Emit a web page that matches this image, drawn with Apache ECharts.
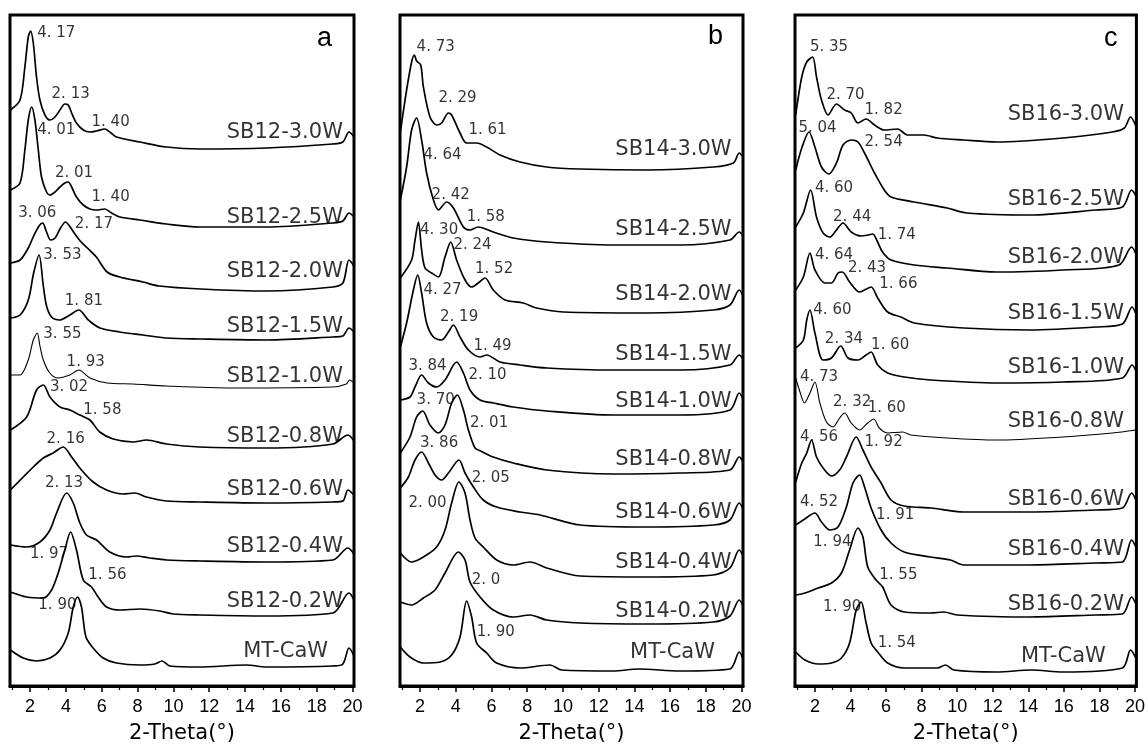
<!DOCTYPE html>
<html><head><meta charset="utf-8">
<script src="https://cdn.jsdelivr.net/npm/echarts@6/dist/echarts.min.js"></script>
<style>html,body{margin:0;padding:0;background:#fff}#c{width:1148px;height:749px}</style>
</head><body><div id="c"></div>
<script>
// ---------- tick labels ----------
const xMajorTicks = [2,4,6,8,10,12,14,16,18,20];
const xMinorTicks = [1,3,5,7,9,11,13,15,17,19];
const xTitle = '2-Theta(°)';
const panelLetters = ['a','b','c'];

// ---------- panel a (SB12) : [2theta, stacked intensity] ----------
const A_names = ['SB12-3.0W','SB12-2.5W','SB12-2.0W','SB12-1.5W','SB12-1.0W','SB12-0.8W','SB12-0.6W','SB12-0.4W','SB12-0.2W','MT-CaW'];
const A_30 = [[0.9,576],[1.44,586],[1.71,619],[1.9,649],[2.03,655],[2.18,643],[2.36,609],[2.55,586],[2.83,571],[3.11,566],[3.39,569],[3.67,576],[3.94,582],[4.13,581],[4.32,573],[4.59,563],[4.97,556],[5.34,554],[5.71,555],[6.17,557],[6.45,554],[6.82,549],[8.13,544],[9.61,539],[11.47,537],[15.19,538],[18.9,542],[19.46,544],[19.8,554],[20.08,549]];
const A_25 = [[0.9,496],[1.44,503],[1.71,536],[1.9,566],[2.09,579],[2.27,566],[2.46,536],[2.64,509],[2.92,494],[3.11,491],[3.39,494],[3.67,499],[3.94,503],[4.13,504],[4.32,499],[4.59,489],[4.97,481],[5.34,477],[5.71,476],[6.17,477],[6.55,473],[7.01,469],[8.13,466],[9.61,462],[11.47,459],[15.19,459],[18.9,463],[19.46,465],[19.8,473],[20.08,469]];
const A_20 = [[0.9,423],[1.44,426],[1.9,438],[2.2,450],[2.5,460],[2.7,463],[2.9,455],[3.15,446],[3.4,448],[3.7,458],[3.98,464],[4.2,460],[4.5,452],[4.8,445],[5.2,438],[5.7,429],[6.3,414],[7.0,409],[8.3,404],[9.2,400],[11.5,397],[15.2,395],[18.9,399],[19.46,403],[19.8,426],[20.08,420]];
const A_15 = [[0.9,368],[1.44,371],[1.9,386],[2.2,413],[2.5,431],[2.74,400],[2.92,380],[3.2,369],[3.65,366],[4.22,371],[4.72,376],[5.25,366],[5.9,358],[7.0,354],[8.3,351],[9.6,348],[11.5,347],[15.2,346],[18.9,349],[19.46,350],[19.8,358],[20.08,354]];
const A_10 = [[0.9,311],[1.44,311],[1.9,326],[2.18,346],[2.4,353],[2.55,340],[2.74,326],[3.1,313],[3.55,308],[4.22,311],[4.72,316],[5.34,308],[6.3,303],[7.75,302],[9.6,300],[13.3,298],[18.9,299],[19.65,302],[19.83,306],[20.08,303]];
const A_08 = [[0.9,256],[1.81,269],[2.36,296],[2.74,301],[3.11,289],[3.67,279],[4.22,276],[4.78,271],[5.34,266],[5.89,254],[6.64,247],[7.75,244],[8.5,246],[9.61,242],[11.47,239],[15.19,238],[18.9,242],[19.74,251],[20.08,245]];
const A_06 = [[0.9,196],[1.62,209],[2.18,219],[2.74,228],[3.29,233],[3.85,239],[4.32,229],[4.87,216],[5.52,204],[6.27,196],[7.2,192],[7.85,193],[8.5,189],[9.61,185],[11.47,184],[15.19,183],[18.9,184],[19.46,185],[19.74,196],[20.08,191]];
const A_04 = [[0.9,141],[1.81,139],[2.55,144],[3.11,156],[3.48,173],[4.04,193],[4.41,183],[4.78,163],[5.15,151],[5.71,146],[6.45,134],[7.38,129],[7.94,130],[8.68,128],[9.61,126],[11.47,125],[15.19,124],[18.9,126],[19.74,138],[20.08,132]];
const A_02 = [[0.9,94],[1.81,89],[2.74,88],[3.2,96],[3.57,113],[3.94,136],[4.26,154],[4.59,136],[4.97,106],[5.43,99],[5.8,89],[6.27,79],[7.01,76],[8.13,77],[9.24,75],[9.98,72],[11.47,71],[15.19,70],[18.9,73],[19.8,93],[20.08,86]];
const A_MT = [[0.9,36],[1.62,28],[2.36,25],[3.11,28],[3.67,36],[4.13,53],[4.41,79],[4.65,89],[4.87,79],[5.12,49],[5.52,38],[6.08,28],[6.82,23],[8.13,21],[8.96,22],[9.37,25],[9.8,20],[11.47,19],[14.07,21],[15.19,19],[18.9,20],[19.46,22],[19.8,38],[20.08,30]];
const A_nameY = [553,468,414,359,309,249,196,139,84,34];
const A_peaks = [[2.40,653,'4. 17'],[3.20,592,'2. 13'],[5.43,564,'1. 40'],[2.40,556,'4. 01'],[3.39,513,'2. 01'],[5.43,489,'1. 40'],[1.34,473,'3. 06'],[4.50,462,'2. 17'],[2.74,431,'3. 53'],[3.94,385,'1. 81'],[2.74,352,'3. 55'],[4.04,324,'1. 93'],[3.11,299,'3. 02'],[4.97,276,'1. 58'],[2.92,247,'2. 16'],[2.83,203,'2. 13'],[1.99,132,'1. 97'],[5.25,111,'1. 56'],[2.46,81,'1. 90']];

// ---------- panel b (SB14) ----------
const B_names = ['SB14-3.0W','SB14-2.5W','SB14-2.0W','SB14-1.5W','SB14-1.0W','SB14-0.8W','SB14-0.6W','SB14-0.4W','SB14-0.2W','MT-CaW'];
const B_30 = [[0.9,554],[1.25,596],[1.53,624],[1.68,631],[1.81,625],[2.04,621],[2.19,599],[2.56,569],[2.93,561],[3.21,563],[3.59,573],[3.77,571],[4.24,553],[4.61,543],[5.17,543],[5.73,539],[6.48,531],[7.6,524],[9.09,519],[10.96,517],[14.69,516],[18.42,519],[19.54,523],[19.87,533],[20.08,529]];
const B_25 = [[0.9,486],[1.25,519],[1.53,556],[1.81,568],[2.09,546],[2.37,513],[2.75,486],[3.03,476],[3.49,484],[3.87,478],[4.43,459],[4.8,456],[5.26,459],[6.1,454],[7.22,448],[9.09,444],[12.82,441],[16.55,441],[19.35,446],[19.87,454],[20.08,450]];
const B_20 = [[0.9,408],[1.53,426],[1.72,446],[1.91,464],[2.09,436],[2.28,418],[2.65,413],[3.03,409],[3.4,429],[3.72,444],[4.05,426],[4.52,406],[4.89,399],[5.26,403],[5.64,408],[6.1,396],[6.76,386],[7.78,383],[8.53,378],[10.02,374],[14.69,373],[18.42,376],[19.35,381],[19.87,396],[20.08,390]];
const B_15 = [[0.9,339],[1.25,363],[1.63,396],[1.87,411],[2.09,393],[2.37,363],[2.75,349],[3.21,346],[3.59,354],[3.87,361],[4.24,349],[4.71,336],[5.36,329],[5.73,331],[6.48,324],[7.6,321],[9.09,318],[12.82,316],[16.55,316],[19.35,321],[19.87,331],[20.08,327]];
const B_10 = [[0.9,286],[1.44,289],[1.72,299],[2.09,311],[2.47,303],[2.93,299],[3.4,306],[4.05,324],[4.43,313],[4.8,296],[5.36,286],[6.1,283],[7.22,279],[9.09,275],[12.82,271],[16.55,271],[19.35,276],[19.87,293],[20.08,287]];
const B_08 = [[0.9,233],[1.44,249],[1.81,269],[2.15,275],[2.56,261],[3.03,253],[3.4,261],[3.77,283],[4.09,291],[4.43,276],[4.71,256],[5.08,238],[5.4,235],[6.1,229],[7.22,223],[9.09,216],[12.82,212],[16.55,213],[19.35,216],[19.87,229],[20.08,224]];
const B_06 = [[0.9,198],[1.35,209],[1.72,226],[2.09,234],[2.47,223],[2.84,211],[3.21,206],[3.59,213],[4.18,226],[4.52,213],[4.99,199],[5.54,186],[6.29,179],[7.6,174],[8.72,171],[10.96,161],[14.69,159],[18.42,161],[19.35,166],[19.87,183],[20.08,177]];
const B_04 = [[0.9,133],[1.53,124],[2.19,129],[2.93,139],[3.4,156],[3.77,183],[4.18,204],[4.52,193],[4.8,166],[5.08,148],[5.54,139],[6.29,126],[7.22,121],[8.16,124],[9.09,118],[10.96,110],[14.69,109],[18.42,111],[19.35,118],[19.87,136],[20.08,130]];
const B_02 = [[0.9,84],[1.53,81],[2.19,88],[2.84,96],[3.4,113],[4.15,134],[4.52,126],[4.8,104],[5.36,89],[6.1,76],[7.22,69],[8.16,71],[9.09,66],[10.96,63],[14.69,62],[18.42,64],[19.35,70],[19.87,86],[20.08,80]];
const B_MT = [[0.9,39],[1.44,29],[2.19,23],[3.12,24],[3.77,31],[4.24,49],[4.61,85],[4.89,69],[5.17,43],[5.73,33],[6.29,23],[7.6,18],[9.28,21],[9.93,16],[12.82,15],[14.22,17],[16.55,15],[19.35,17],[19.87,34],[20.08,27]];
const B_nameY = [536,456,391,331,284,226,173,123,74,33];
const B_peaks = [[1.81,639,'4. 73'],[3.03,588,'2. 29'],[4.71,556,'1. 61'],[2.19,531,'4. 64'],[2.65,491,'2. 42'],[4.61,469,'1. 58'],[2.00,456,'4. 30'],[3.87,441,'2. 24'],[5.08,417,'1. 52'],[2.19,396,'4. 27'],[3.12,369,'2. 19'],[4.99,340,'1. 49'],[1.35,320,'3. 84'],[4.71,311,'2. 10'],[1.81,286,'3. 70'],[4.80,263,'2. 01'],[2.00,243,'3. 86'],[4.89,208,'2. 05'],[1.35,183,'2. 00'],[4.89,106,'2. 0'],[5.17,54,'1. 90']];

// ---------- panel c (SB16) ----------
const C_names = ['SB16-3.0W','SB16-2.5W','SB16-2.0W','SB16-1.5W','SB16-1.0W','SB16-0.8W','SB16-0.6W','SB16-0.4W','SB16-0.2W','MT-CaW'];
const C_30 = [[0.92,571],[1.26,609],[1.54,624],[1.87,629],[2.09,609],[2.37,586],[2.74,571],[3.21,582],[3.67,576],[4.04,573],[4.42,563],[4.88,567],[5.35,561],[5.9,556],[6.65,557],[7.2,551],[8.13,551],[8.88,548],[10.36,546],[12.22,544],[15.94,548],[18.73,554],[19.4,558],[19.75,569],[20.05,560]];
const C_25 = [[0.92,516],[1.26,538],[1.67,554],[2.0,539],[2.37,519],[2.78,512],[3.21,523],[3.58,541],[4.04,546],[4.42,544],[4.79,533],[5.35,513],[5.9,496],[6.28,489],[7.58,484],[9.43,478],[10.55,473],[14.08,471],[17.8,476],[19.29,479],[19.81,496],[20.05,490]];
const C_20 = [[0.92,459],[1.35,473],[1.76,496],[2.09,469],[2.46,453],[2.84,449],[3.21,456],[3.58,463],[4.04,454],[4.6,450],[5.0,451],[5.25,452],[5.5,445],[5.8,434],[6.28,426],[7.58,421],[9.43,418],[12.22,414],[15.94,416],[19.1,421],[19.81,439],[20.05,432]];
const C_15 = [[0.92,396],[1.35,409],[1.72,433],[2.0,416],[2.56,403],[2.93,403],[3.3,413],[3.54,414],[3.95,404],[4.51,394],[4.79,396],[5.16,399],[5.53,388],[6.09,374],[6.83,369],[7.58,363],[10.36,358],[14.08,356],[17.8,359],[19.29,362],[19.84,379],[20.05,372]];
const C_10 = [[0.92,338],[1.35,346],[1.54,366],[1.72,376],[2.0,353],[2.46,326],[2.93,328],[3.45,340],[3.86,328],[4.42,326],[4.88,331],[5.16,334],[5.53,321],[6.09,313],[7.02,309],[8.51,306],[12.22,303],[15.94,304],[19.29,308],[19.84,321],[20.05,315]];
const C_08 = [[0.92,308],[1.16,294],[1.41,283],[1.72,293],[2.0,304],[2.28,283],[2.65,264],[3.02,259],[3.39,268],[3.67,273],[4.04,263],[4.51,256],[4.97,263],[5.31,267],[5.62,258],[6.09,253],[6.93,254],[7.39,251],[9.43,248],[12.22,246],[15.94,249],[18.73,253],[20.05,256]];
const C_06 = [[0.92,204],[1.26,223],[1.54,233],[1.81,246],[2.09,229],[2.46,218],[2.93,210],[3.39,216],[3.77,229],[4.32,249],[4.7,236],[5.16,219],[5.72,203],[6.28,186],[7.02,180],[8.51,178],[10.36,174],[14.08,174],[17.8,176],[19.29,178],[19.81,193],[20.05,186]];
const C_04 = [[0.92,161],[1.35,166],[2.0,173],[2.37,164],[2.84,156],[3.3,159],[3.77,179],[4.14,203],[4.51,211],[4.79,199],[5.16,178],[5.72,156],[6.28,143],[7.02,134],[8.51,129],[9.62,126],[10.36,121],[14.08,121],[17.8,123],[19.29,124],[19.81,146],[20.05,139]];
const C_02 = [[0.92,91],[1.44,93],[2.19,98],[2.93,103],[3.49,113],[3.95,136],[4.42,158],[4.7,149],[4.97,119],[5.44,106],[5.81,99],[6.28,81],[7.02,74],[8.51,73],[9.25,74],[10.0,71],[14.08,69],[17.8,71],[19.29,72],[19.81,89],[20.05,82]];
const C_MT = [[0.92,34],[1.44,26],[2.19,22],[2.93,23],[3.49,28],[3.95,43],[4.32,76],[4.6,84],[4.88,63],[5.16,43],[5.53,34],[6.09,23],[7.02,18],[8.88,18],[9.34,21],[9.81,16],[12.22,14],[14.17,16],[15.94,14],[19.29,18],[19.75,36],[20.05,28]];
const C_nameY = [571,486,428,372,318,264,186,136,81,29];
const C_peaks = [[1.72,639,'5. 35'],[2.65,591,'2. 70'],[4.79,576,'1. 82'],[1.07,558,'5. 04'],[4.79,544,'2. 54'],[2.00,498,'4. 60'],[3.02,469,'2. 44'],[5.53,451,'1. 74'],[2.00,431,'4. 64'],[3.86,418,'2. 43'],[5.62,402,'1. 66'],[1.91,376,'4. 60'],[2.56,347,'2. 34'],[5.16,341,'1. 60'],[1.16,309,'4. 73'],[3.02,284,'2. 32'],[4.97,278,'1. 60'],[1.16,249,'4. 56'],[4.79,244,'1. 92'],[1.16,184,'4. 52'],[5.44,171,'1. 91'],[1.91,144,'1. 94'],[5.62,111,'1. 55'],[2.46,79,'1. 90'],[5.53,43,'1. 54']];

// label anchors (right edge of sample names) in 2theta
const nameRightSB = [19.46, 19.44, 19.38];
const nameRightMT = [18.63, 18.51, 18.36];

// ---------- build ----------
const panels = [
  {curves:[A_30,A_25,A_20,A_15,A_10,A_08,A_06,A_04,A_02,A_MT], thin:[4], names:A_names, nameY:A_nameY, peaks:A_peaks},
  {curves:[B_30,B_25,B_20,B_15,B_10,B_08,B_06,B_04,B_02,B_MT], thin:[], names:B_names, nameY:B_nameY, peaks:B_peaks},
  {curves:[C_30,C_25,C_20,C_15,C_10,C_08,C_06,C_04,C_02,C_MT], thin:[5], names:C_names, nameY:C_nameY, peaks:C_peaks}
];
const gridLefts = [10, 400, 795];
const gridWidths = [344, 343, 343];
const XMIN = 0.88, XMAX = 20.08, YMAX = 671;
const txtFont = 'DejaVu Sans';

const grid = [], xAxis = [], yAxis = [], series = [], title = [];
panels.forEach((p, i) => {
  grid.push({left: gridLefts[i], top: 15, width: gridWidths[i], height: YMAX, show: true, borderColor: '#000', borderWidth: 3, backgroundColor: 'transparent'});
  yAxis.push({gridIndex: i, type: 'value', min: 0, max: YMAX, show: false});
});
panels.forEach((p, i) => {
  xAxis.push({
    gridIndex: i, type: 'value', min: XMIN, max: XMAX, position: 'bottom',
    axisLine: {show: true, onZero: false, lineStyle: {color: '#000', width: 3}},
    axisTick: {show: true, inside: false, length: 6, customValues: xMajorTicks, lineStyle: {color: '#000', width: 1.5}},
    axisLabel: {show: true, customValues: xMajorTicks, fontSize: 18, color: '#000', fontFamily: 'Liberation Sans', margin: 12},
    splitLine: {show: false},
    name: xTitle, nameLocation: 'middle', nameGap: 37,
    nameTextStyle: {fontSize: 21, color: '#000', fontFamily: txtFont}
  });
});
panels.forEach((p, i) => {
  xAxis.push({
    gridIndex: i, type: 'value', min: XMIN, max: XMAX, position: 'bottom',
    axisLine: {show: false},
    axisTick: {show: true, inside: false, length: 4, customValues: xMinorTicks, lineStyle: {color: '#000', width: 1.2}},
    axisLabel: {show: false},
    splitLine: {show: false}
  });
});
panels.forEach((p, i) => {
  p.curves.forEach((d, k) => {
    series.push({
      type: 'line', xAxisIndex: i, yAxisIndex: i, data: d, showSymbol: false,
      smooth: 0.3, clip: true, silent: true,
      lineStyle: {color: '#000', width: p.thin.includes(k) ? 1.1 : 1.7}
    });
  });
  // peak d-spacing labels
  series.push({
    type: 'scatter', xAxisIndex: i, yAxisIndex: i, symbolSize: 0, silent: true, z: 5,
    data: p.peaks.map(q => ({value: [q[0], q[1]], name: q[2]})),
    label: {show: true, position: 'right', distance: 0, formatter: '{b}', fontSize: 15, color: '#000', fontFamily: txtFont}
  });
  // sample names
  series.push({
    type: 'scatter', xAxisIndex: i, yAxisIndex: i, symbolSize: 0, silent: true, z: 5,
    data: p.names.map((n, k) => ({value: [k === 9 ? nameRightMT[i] : nameRightSB[i], p.nameY[k]], name: n})),
    label: {show: true, position: 'left', distance: 0, formatter: '{b}', fontSize: 21, color: '#000', fontFamily: txtFont}
  });
});
const letterPos = [[312, 20], [703, 18], [1099, 20]];
panelLetters.forEach((t, i) => {
  title.push({text: t, left: letterPos[i][0], top: letterPos[i][1], textStyle: {fontSize: 27, fontWeight: 'normal', color: '#000', fontFamily: 'Liberation Sans'}});
});

const chart = echarts.init(document.getElementById('c'), null, {renderer: 'canvas'});
chart.setOption({animation: false, backgroundColor: '#fff', title, grid, xAxis, yAxis, series});
</script></body></html>
